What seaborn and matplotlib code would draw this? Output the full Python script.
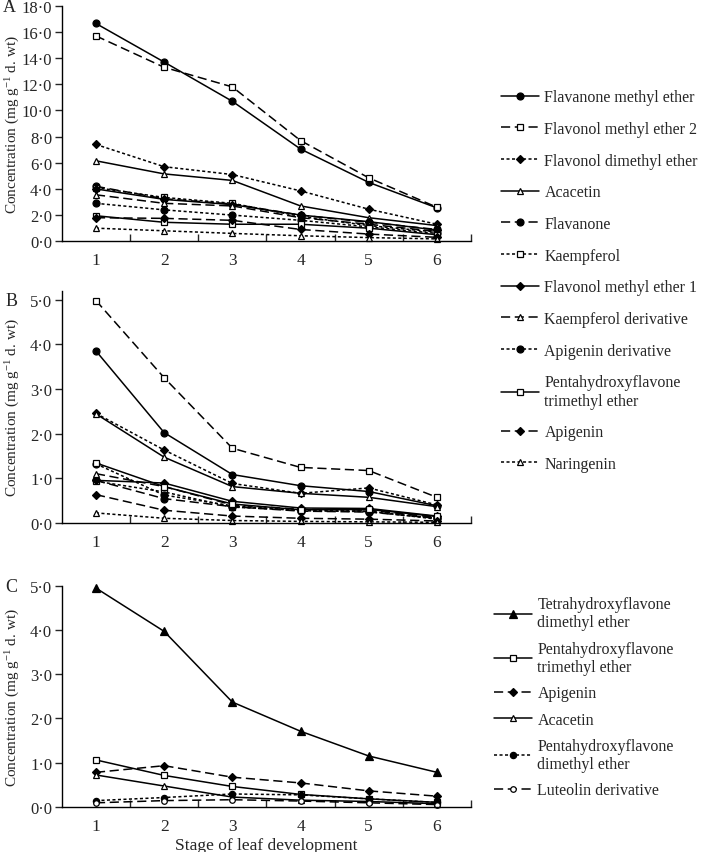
import matplotlib
matplotlib.use("Agg")
import matplotlib.pyplot as plt
import seaborn as sns
from matplotlib.ticker import FuncFormatter, FixedLocator

stages = [1, 2, 3, 4, 5, 6]

names_ab = ["Flavanone methyl ether", "Flavonol methyl ether 2", "Flavonol dimethyl ether",
            "Acacetin", "Flavanone", "Kaempferol", "Flavonol methyl ether 1",
            "Kaempferol derivative", "Apigenin derivative",
            "Pentahydroxyflavone\ntrimethyl ether", "Apigenin", "Naringenin"]

a_flavanone_methyl_ether = [16.65, 13.7, 10.7, 7.05, 4.5, 2.55]
a_flavonol_methyl_ether_2 = [15.7, 13.3, 11.8, 7.7, 4.85, 2.6]
a_flavonol_dimethyl_ether = [7.4, 5.7, 5.1, 3.85, 2.45, 1.3]
a_acacetin = [6.15, 5.15, 4.65, 2.7, 1.8, 1.2]
a_flavanone = [4.2, 3.25, 2.85, 2.0, 1.45, 0.9]
a_kaempferol = [4.1, 3.35, 2.9, 1.9, 1.2, 0.7]
a_flavonol_methyl_ether_1 = [4.0, 3.2, 2.8, 2.0, 1.5, 0.85]
a_kaempferol_derivative = [3.55, 2.9, 2.7, 1.8, 1.3, 0.75]
a_apigenin_derivative = [2.9, 2.4, 2.0, 1.6, 1.1, 0.6]
a_pentahydroxy_trimethyl = [1.95, 1.45, 1.3, 1.3, 1.0, 0.5]
a_apigenin = [1.8, 1.75, 1.6, 0.9, 0.55, 0.3]
a_naringenin = [1.0, 0.8, 0.6, 0.42, 0.28, 0.18]

b_flavanone_methyl_ether = [3.85, 2.02, 1.08, 0.83, 0.70, 0.38]
b_flavonol_methyl_ether_2 = [4.98, 3.25, 1.67, 1.24, 1.17, 0.57]
b_flavonol_dimethyl_ether = [2.45, 1.63, 0.88, 0.66, 0.78, 0.40]
b_acacetin = [2.44, 1.47, 0.81, 0.66, 0.57, 0.36]
b_flavanone = [0.95, 0.54, 0.36, 0.26, 0.24, 0.10]
b_kaempferol = [0.93, 0.69, 0.35, 0.28, 0.26, 0.08]
b_flavonol_methyl_ether_1 = [0.95, 0.89, 0.48, 0.33, 0.32, 0.15]
b_kaempferol_derivative = [1.10, 0.81, 0.40, 0.30, 0.28, 0.12]
b_apigenin_derivative = [1.32, 0.62, 0.38, 0.27, 0.25, 0.10]
b_pentahydroxy_trimethyl = [1.34, 0.81, 0.42, 0.29, 0.30, 0.14]
b_apigenin = [0.63, 0.28, 0.15, 0.10, 0.08, 0.04]
b_naringenin = [0.22, 0.10, 0.05, 0.03, 0.02, 0.01]

names_c = ["Tetrahydroxyflavone\ndimethyl ether", "Pentahydroxyflavone\ntrimethyl ether",
           "Apigenin", "Acacetin", "Pentahydroxyflavone\ndimethyl ether", "Luteolin derivative"]
c_tetrahydroxy_dimethyl = [4.95, 3.97, 2.37, 1.71, 1.15, 0.78]
c_pentahydroxy_trimethyl = [1.06, 0.71, 0.46, 0.28, 0.18, 0.10]
c_apigenin = [0.78, 0.93, 0.67, 0.54, 0.36, 0.24]
c_acacetin = [0.72, 0.47, 0.22, 0.15, 0.12, 0.07]
c_pentahydroxy_dimethyl = [0.14, 0.21, 0.29, 0.27, 0.18, 0.10]
c_luteolin_derivative = [0.09, 0.14, 0.16, 0.13, 0.09, 0.05]

series_a = [a_flavanone_methyl_ether, a_flavonol_methyl_ether_2, a_flavonol_dimethyl_ether,
            a_acacetin, a_flavanone, a_kaempferol, a_flavonol_methyl_ether_1,
            a_kaempferol_derivative, a_apigenin_derivative, a_pentahydroxy_trimethyl,
            a_apigenin, a_naringenin]
series_b = [b_flavanone_methyl_ether, b_flavonol_methyl_ether_2, b_flavonol_dimethyl_ether,
            b_acacetin, b_flavanone, b_kaempferol, b_flavonol_methyl_ether_1,
            b_kaempferol_derivative, b_apigenin_derivative, b_pentahydroxy_trimethyl,
            b_apigenin, b_naringenin]
series_c = [c_tetrahydroxy_dimethyl, c_pentahydroxy_trimethyl, c_apigenin, c_acacetin,
            c_pentahydroxy_dimethyl, c_luteolin_derivative]

SOLID = "-"
DASH = (0, (6, 3))
DOT = (0, (2, 1.6))
# (marker, filled, linestyle, markersize)
styles_ab = [("o", True, SOLID, 5), ("s", False, DASH, 5), ("D", True, DOT, 3.6),
             ("^", False, SOLID, 5), ("o", True, DASH, 5), ("s", False, DOT, 5),
             ("D", True, SOLID, 3.6), ("^", False, DASH, 5), ("o", True, DOT, 5),
             ("s", False, SOLID, 5), ("D", True, DASH, 3.6), ("^", False, DOT, 5)]
styles_c = [("^", True, SOLID, 5.5), ("s", False, SOLID, 5), ("D", True, DASH, 3.6),
            ("^", False, SOLID, 5), ("o", True, DOT, 4.5), ("o", False, DASH, 4)]

sns.set_theme(style="ticks")
plt.rcParams["font.family"] = ["Liberation Serif", "DejaVu Serif"]
plt.rcParams["mathtext.default"] = "regular"

fig = plt.figure(figsize=(7.03, 8.53), dpi=100)
ax_a = fig.add_axes([0.088, 0.716, 0.582, 0.276])
ax_b = fig.add_axes([0.088, 0.386, 0.582, 0.272])
ax_c = fig.add_axes([0.088, 0.053, 0.582, 0.259])


def draw(ax, series, names, styles):
    for vals, name, (m, filled, ls, ms) in zip(series, names, styles):
        sns.lineplot(x=stages, y=vals, ax=ax, color="black", linewidth=1.1,
                     linestyle=ls, marker=m, markersize=ms,
                     markerfacecolor="black" if filled else "white",
                     markeredgecolor="black", markeredgewidth=0.9,
                     label=name, clip_on=False, legend=False)


draw(ax_a, series_a, names_ab, styles_ab)
draw(ax_b, series_b, names_ab, styles_ab)
draw(ax_c, series_c, names_c, styles_c)

fmt = FuncFormatter(lambda v, p: f"{v:.1f}".replace(".", "\u00b7"))
for ax, top, step, nt in [(ax_a, 18.0, 2.0, 9), (ax_b, 5.2, 1.0, 5), (ax_c, 5.0, 1.0, 5)]:
    ax.set_xlim(0.5, 6.5)
    ax.set_ylim(0, top)
    ax.yaxis.set_major_locator(FixedLocator([i * step for i in range(nt + 1)]))
    ax.yaxis.set_major_formatter(fmt)
    ax.xaxis.set_major_locator(FixedLocator(stages))
    ax.xaxis.set_minor_locator(FixedLocator([1.5, 2.5, 3.5, 4.5, 5.5, 6.5]))
    ax.tick_params(axis="x", which="major", length=0, pad=8, labelsize=12.5)
    ax.tick_params(axis="x", which="minor", direction="in", length=5, width=1)
    ax.tick_params(axis="y", which="major", direction="out", length=5, width=1,
                   labelsize=12, pad=2)
    for s in ["top", "right"]:
        ax.spines[s].set_visible(False)
    for s in ["left", "bottom"]:
        ax.spines[s].set_linewidth(1.0)
        ax.spines[s].set_color("black")
    ax.set_ylabel("Concentration (mg g$^{-1}$ d. wt)", fontsize=11)
    ax.yaxis.set_label_coords(-0.097, 0.5)
    ax.set_xlabel("")

ax_c.set_xlabel("Stage of leaf development", fontsize=12.5, labelpad=2)

fig.text(0.004, 0.991, "A", fontsize=13, va="center", ha="left")
fig.text(0.008, 0.646, "B", fontsize=13, va="center", ha="left")
fig.text(0.008, 0.311, "C", fontsize=13, va="center", ha="left")

h_ab, l_ab = ax_a.get_legend_handles_labels()
fig.legend(h_ab, l_ab, loc="upper left", bbox_to_anchor=(0.712, 0.894),
           frameon=False, fontsize=11.5, handlelength=2.4, handletextpad=0.35,
           labelspacing=0.98, borderpad=0, borderaxespad=0)
h_c, l_c = ax_c.get_legend_handles_labels()
fig.legend(h_c, l_c, loc="upper left", bbox_to_anchor=(0.702, 0.300),
           frameon=False, fontsize=11.5, handlelength=2.4, handletextpad=0.35,
           labelspacing=0.64, borderpad=0, borderaxespad=0)

fig.savefig("out.png", dpi=100, facecolor="white")
